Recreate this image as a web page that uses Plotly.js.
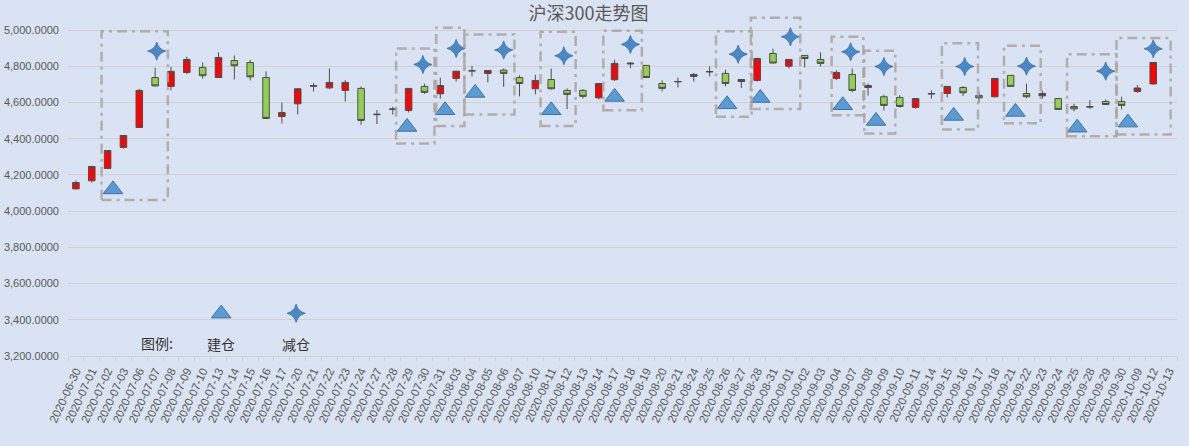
<!DOCTYPE html>
<html>
<head>
<meta charset="utf-8">
<script src="https://cdn.plot.ly/plotly-3.0.1.min.js"></script>
<style>
  html, body { margin: 0; padding: 0; background: #DAE3F3; }
  #hs300 { width: 1189px; height: 446px; }
</style>
</head>
<body>
<div id="hs300"></div>
<script>
const dates = [
  "2020-06-30","2020-07-01","2020-07-02","2020-07-03","2020-07-06","2020-07-07","2020-07-08","2020-07-09","2020-07-10",
  "2020-07-13","2020-07-14","2020-07-15","2020-07-16","2020-07-17","2020-07-20","2020-07-21","2020-07-22","2020-07-23",
  "2020-07-24","2020-07-27","2020-07-28","2020-07-29","2020-07-30","2020-07-31","2020-08-03","2020-08-04","2020-08-05",
  "2020-08-06","2020-08-07","2020-08-10","2020-08-11","2020-08-12","2020-08-13","2020-08-14","2020-08-17","2020-08-18",
  "2020-08-19","2020-08-20","2020-08-21","2020-08-24","2020-08-25","2020-08-26","2020-08-27","2020-08-28","2020-08-31",
  "2020-09-01","2020-09-02","2020-09-03","2020-09-04","2020-09-07","2020-09-08","2020-09-09","2020-09-10","2020-09-11",
  "2020-09-14","2020-09-15","2020-09-16","2020-09-17","2020-09-18","2020-09-21","2020-09-22","2020-09-23","2020-09-24",
  "2020-09-25","2020-09-28","2020-09-29","2020-09-30","2020-10-09","2020-10-12","2020-10-13"
];
// 10-13 has no candle in the chart
const openP = [
  4123,4168,4236,4352,4462,4738,4689,4766,4794,
  4738,4832,4821,4738,4523,4593,4690,4681,4667,
  4678,4533,4562,4556,4689,4648,4733,4774,4761,
  4779,4738,4676,4727,4667,4667,4626,4726,4813,
  4805,4705,4714,4744,4769,4761,4716,4722,4871,
  4801,4860,4838,4733,4755,4683,4632,4628,4573,
  4647,4650,4683,4639,4632,4750,4650,4637,4622,
  4578,4575,4606,4606,4661,4703,null
];
const highP = [
  4169,4250,4337,4420,4676,4792,4797,4853,4821,
  4877,4860,4836,4772,4600,4678,4707,4788,4724,
  4689,4558,4577,4680,4704,4737,4775,4803,4778,
  4788,4750,4753,4788,4678,4674,4707,4836,4823,
  4806,4722,4737,4764,4799,4781,4728,4849,4897,
  4840,4862,4877,4779,4788,4705,4643,4641,4625,
  4667,4690,4691,4661,4735,4751,4705,4667,4624,
  4593,4613,4617,4632,4696,4823,null
];
const lowP = [
  4120,4157,4234,4346,4460,4687,4667,4757,4733,
  4736,4727,4722,4510,4484,4534,4661,4674,4606,
  4477,4481,4534,4545,4648,4621,4716,4744,4711,
  4687,4634,4645,4672,4564,4622,4617,4720,4790,
  4736,4661,4683,4716,4744,4689,4680,4716,4816,
  4788,4794,4799,4724,4656,4639,4556,4573,4566,
  4621,4628,4637,4600,4627,4688,4624,4621,4560,
  4551,4565,4587,4562,4654,4698,null
];
const closeP = [
  4158,4247,4335,4418,4667,4692,4772,4838,4748,
  4849,4803,4742,4512,4545,4676,4693,4711,4711,
  4501,4535,4564,4678,4656,4694,4773,4776,4777,
  4761,4705,4722,4676,4645,4634,4705,4816,4817,
  4738,4678,4716,4755,4771,4705,4727,4843,4818,
  4838,4843,4816,4766,4667,4694,4584,4578,4622,
  4649,4689,4654,4626,4733,4689,4632,4650,4562,
  4565,4577,4589,4584,4680,4821,null
];

// 建仓 marks: position along the day axis (index, can sit between two days) and price
const buyPos   = [2.34, 20.9, 23.3, 25.2, 30.0, 34.0, 41.1, 43.2, 48.4, 50.5, 55.4, 59.3, 63.2, 66.4];
const buyPrice = [4120, 4465, 4557, 4653, 4557, 4631, 4590, 4625, 4585, 4498, 4526, 4548, 4461, 4489];
// 减仓 marks
const sellPos   = [5.1, 21.9, 24.0, 27.0, 30.8, 35.0, 41.8, 45.1, 48.9, 51.0, 56.1, 60.0, 65.0, 68.0];
const sellPrice = [4884, 4810, 4899, 4890, 4858, 4921, 4867, 4963, 4880, 4799, 4799, 4801, 4773, 4897];

// dashed frames round each trade
const frameFrom = [1.62, 20.21, 22.74, 24.52, 29.33, 33.29, 40.4, 42.6, 47.7, 49.76, 54.66, 58.58, 62.56, 65.68];
const frameTo   = [5.80, 22.63, 24.52, 27.68, 31.54, 35.72, 42.65, 45.72, 49.7, 51.72, 56.94, 60.9, 65.68, 69.1];
const frameLow  = [4061, 4374, 4470, 4534, 4470, 4558, 4521, 4564, 4530, 4429, 4451, 4485, 4414, 4424];
const frameHigh = [4994, 4899, 5013, 4976, 4991, 4996, 4994, 5068, 4963, 4886, 4927, 4913, 4866, 4957];

const yTicks = [3200, 3400, 3600, 3800, 4000, 4200, 4400, 4600, 4800, 5000];

const BG = '#DAE3F3';
const GRID = '#D3D1D0';
const TXT = '#595959';
const CJK = 'Noto Sans CJK SC';
const LAT = 'Liberation Sans';

const buyMarker = { symbol: 'triangle-up', size: 17, color: '#5B9BD5', line: { color: '#41719C', width: 1 } };
const sellMarker = { symbol: 'star-diamond', size: 13, color: '#4A89C8', line: { color: '#3A6E9E', width: 0.8 } };

function mark_trace(xs, ys, marker) {
    return {
        type: 'scatter',
        mode: 'markers',
        x: xs,
        y: ys,
        xaxis: 'x2',
        yaxis: 'y',
        cliponaxis: false,
        marker: marker,
        hoverinfo: 'skip'
    };
}

function draw_chart() {
    const nDays = dates.length;

    const candles = {
        type: 'candlestick',
        x: dates,
        open: openP,
        high: highP,
        low: lowP,
        close: closeP,
        whiskerwidth: 0,
        increasing: { line: { color: '#4D4D4D', width: 1 }, fillcolor: '#FF0000' },
        decreasing: { line: { color: '#4D4D4D', width: 1 }, fillcolor: '#92D050' },
        hoverinfo: 'skip'
    };

    // key symbols sit in the empty lower part of the plot
    const keyBuy = mark_trace([9.17], [3434], buyMarker);
    const keySell = mark_trace([13.9], [3436], sellMarker);

    let frames = [];
    for (let i = 0; i < frameFrom.length; i++) {
        frames.push({
            type: 'rect',
            xref: 'x2', yref: 'y',
            x0: frameFrom[i], x1: frameTo[i],
            y0: frameLow[i], y1: frameHigh[i],
            fillcolor: 'rgba(0,0,0,0)',
            line: { color: 'rgba(172,165,158,0.85)', width: 2.5, dash: '10px,5px,3px,5px' },
            layer: 'above'
        });
    }

    const keyFont = { family: CJK, size: 14, color: '#333333' };

    Plotly.newPlot('hs300', [
        candles,
        mark_trace(buyPos, buyPrice, buyMarker),
        mark_trace(sellPos, sellPrice, sellMarker),
        keyBuy, keySell
    ], {
        width: 1189,
        height: 446,
        showlegend: false,
        hovermode: false,
        paper_bgcolor: BG,
        plot_bgcolor: BG,
        margin: { l: 68, r: 12, t: 12, b: 90 },
        boxgap: 0.41,
        boxgroupgap: 0.3,
        title: {
            text: '沪深300走势图',
            font: { family: CJK, size: 18, color: TXT },
            xref: 'container', x: 0.495, xanchor: 'center',
            yref: 'container', y: 0.97, yanchor: 'middle'
        },
        xaxis: {
            type: 'category',
            categoryorder: 'array',
            categoryarray: dates,
            range: [-0.5, nDays - 0.5],
            tickangle: -65,
            tickfont: { family: LAT, size: 11.5, color: TXT },
            ticklabelstandoff: 3,
            tickson: 'boundaries',
            ticks: 'outside',
            ticklen: 4,
            tickcolor: GRID,
            showgrid: false,
            showline: true,
            linecolor: GRID,
            rangeslider: { visible: false },
            fixedrange: true
        },
        xaxis2: {
            overlaying: 'x',
            anchor: 'y',
            range: [-0.5, nDays - 0.5],
            visible: false,
            fixedrange: true
        },
        yaxis: {
            range: [3200, 5100],
            tickvals: yTicks,
            tickformat: ',.4f',
            tickfont: { family: LAT, size: 11, color: TXT },
            ticklabelstandoff: 8,
            gridcolor: GRID,
            gridwidth: 1,
            zeroline: false,
            fixedrange: true
        },
        shapes: frames,
        annotations: [
            { xref: 'x2', yref: 'y', x: 5.12, y: 3271, text: '图例:', showarrow: false, font: keyFont },
            { xref: 'x2', yref: 'y', x: 9.17, y: 3266, text: '建仓', showarrow: false, font: keyFont },
            { xref: 'x2', yref: 'y', x: 13.9, y: 3266, text: '减仓', showarrow: false, font: keyFont }
        ]
    }, { displayModeBar: false, staticPlot: true });
}

draw_chart();
</script>
</body>
</html>
